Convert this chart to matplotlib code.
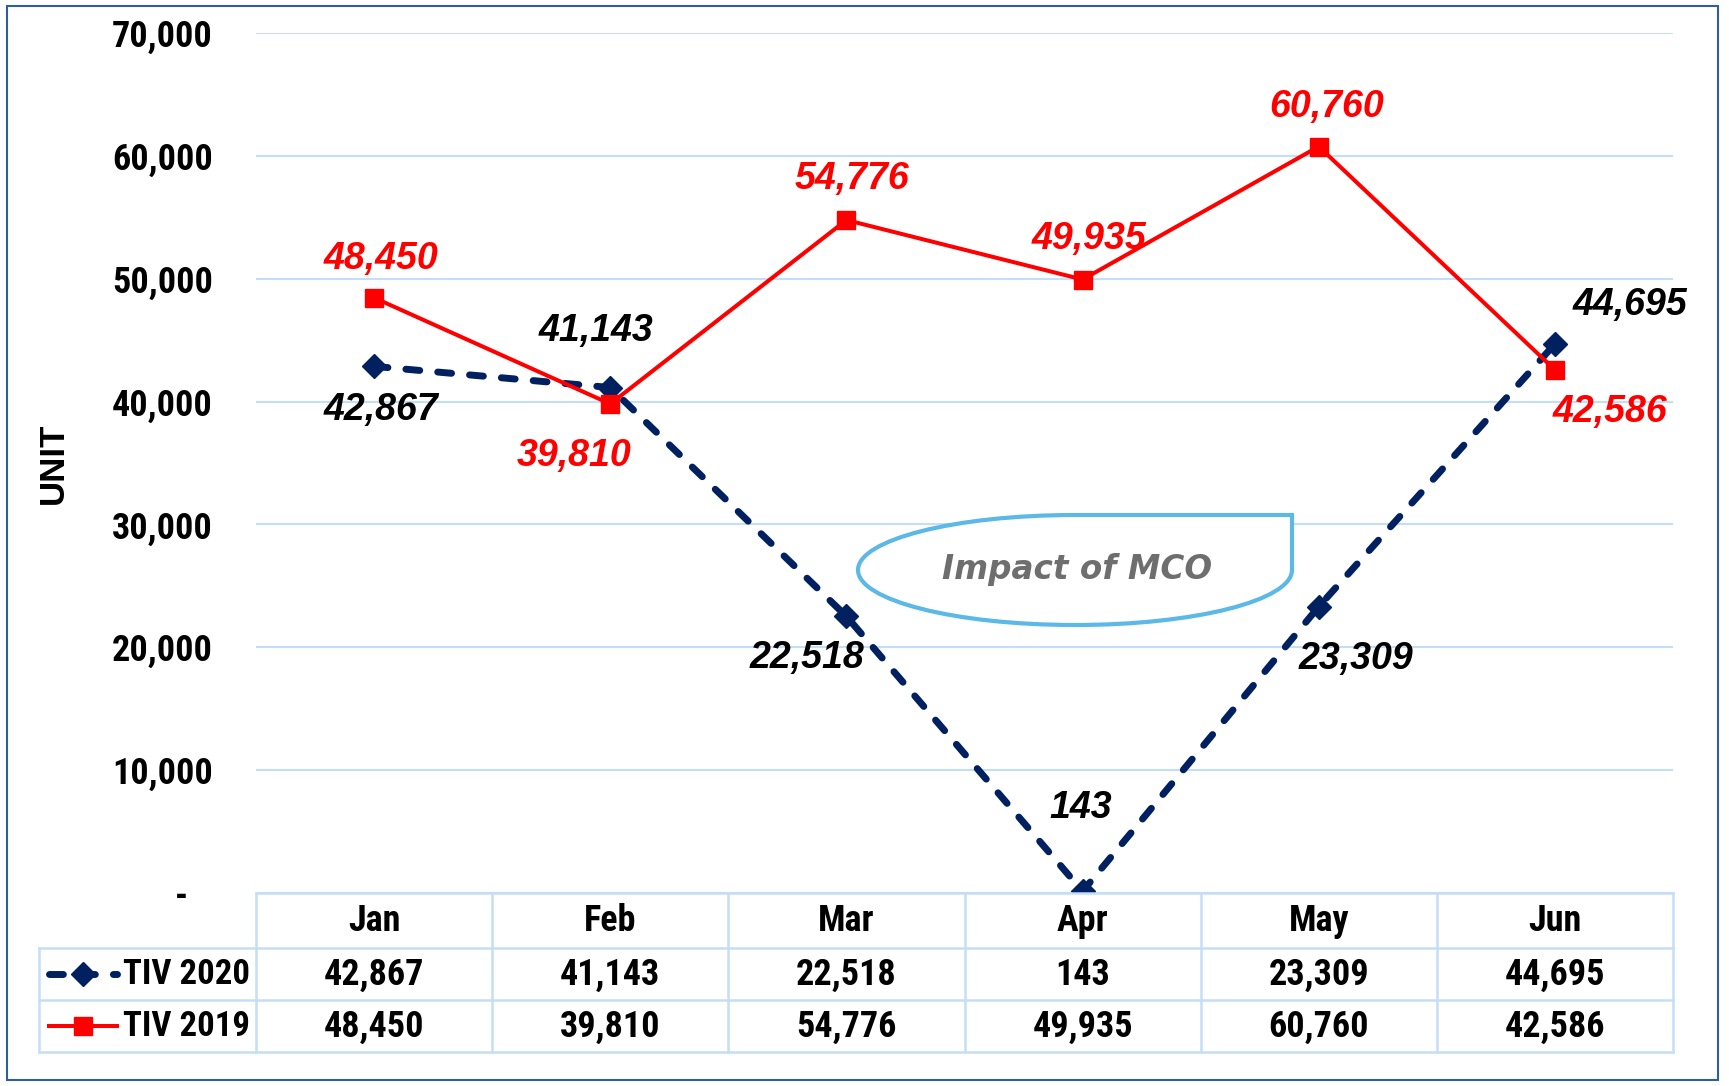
import matplotlib
matplotlib.use("Agg")
import matplotlib.pyplot as plt
import matplotlib.transforms as mtransforms
from matplotlib import font_manager
from matplotlib.path import Path
from matplotlib.patches import PathPatch, Rectangle
from matplotlib.lines import Line2D

# data
months = ['Jan', 'Feb', 'Mar', 'Apr', 'May', 'Jun']
tiv_2020 = [42867, 41143, 22518, 143, 23309, 44695]
tiv_2019 = [48450, 39810, 54776, 49935, 60760, 42586]
y_ticks = [0, 10000, 20000, 30000, 40000, 50000, 60000, 70000]

# label offsets in pixels (dx, dy)
off_2020 = [(7, -44), (-14, 57), (-39, -42), (-2, 83), (37, -52), (75, 39)]
off_2019 = [(7, 39), (-36, -52), (6, 41), (6, 41), (8, 40), (55, -42)]

W, H = 1729, 1086
NAVY = '#002060'
RED = '#ff0000'
GRID = '#c5def7'
ARIAL = ['Liberation Sans', 'DejaVu Sans']

# look for a narrow font, otherwise use plain Arial-like one
narrow = None
for fam, st in [('Liberation Sans Narrow', 'normal'), ('Arial Narrow', 'normal'),
                ('Roboto Condensed', 'normal'), ('DejaVu Sans', 'condensed')]:
    try:
        p = font_manager.findfont(font_manager.FontProperties(family=fam, stretch=st, weight='bold'),
                                  fallback_to_default=False)
        if st == 'normal' or 'ondensed' in p:
            narrow = (fam, st)
            break
    except Exception:
        pass
if narrow:
    NFONT = dict(family=[narrow[0]], fontstretch=narrow[1], fontsize=26, fontweight='bold')
else:
    NFONT = dict(family=ARIAL, fontsize=23, fontweight='bold')
LFONT = dict(NFONT, fontsize=NFONT['fontsize'] - 1)


def fx(x):
    return x / W


def fy(y):
    return 1 - y / H


fig = plt.figure(figsize=(W / 100, H / 100), dpi=100)
ax = fig.add_axes([fx(256), fy(893), (1673 - 256) / W, (893 - 33) / H])

DASH = (0, (2.0, 2.6))
x = list(range(len(months)))
ax.plot(x, tiv_2020, color=NAVY, lw=5, ls=DASH, dash_capstyle='round',
        marker='D', ms=12, zorder=4)
ax.plot(x, tiv_2019, color=RED, lw=2.9, marker='s', ms=13, zorder=5)

for i, v in enumerate(tiv_2020):
    ax.annotate(f'{v:,}', (i, v), xytext=off_2020[i], textcoords='offset pixels',
                ha='center', va='center', fontsize=27, fontweight='bold',
                fontstyle='italic', family=ARIAL, color='black', zorder=6)
for i, v in enumerate(tiv_2019):
    ax.annotate(f'{v:,}', (i, v), xytext=off_2019[i], textcoords='offset pixels',
                ha='center', va='center', fontsize=27, fontweight='bold',
                fontstyle='italic', family=ARIAL, color=RED, zorder=6)

ax.set_xlim(-0.5, 5.5)
ax.set_ylim(0, 70000)
ax.set_xticks([])
ax.set_yticks(y_ticks)
ax.set_yticklabels(['-   '] + [f'{t:,}' for t in y_ticks[1:]], **NFONT)
ax.tick_params(axis='y', length=0, pad=31)
for s in ax.spines.values():
    s.set_visible(False)
ax.grid(axis='y', color=GRID, lw=1.5)
ax.set_axisbelow(True)
ax.patch.set_alpha(0)

fig.text(fx(53), fy(463), 'UNIT', rotation=90, ha='center', va='center',
         fontsize=25, fontweight='bold', family=ARIAL)


# data table under the chart
def col_edge(i):
    return fx(256) + (i / 6) * (1673 - 256) / W


tl = dict(color=GRID, lw=1.8, transform=fig.transFigure)
fig.add_artist(Line2D([col_edge(0), col_edge(6)], [fy(893), fy(893)], **tl))
for yy in [948, 1000, 1052]:
    fig.add_artist(Line2D([fx(39), col_edge(6)], [fy(yy), fy(yy)], **tl))
for i in range(7):
    fig.add_artist(Line2D([col_edge(i), col_edge(i)], [fy(893), fy(1052)], **tl))
fig.add_artist(Line2D([fx(39), fx(39)], [fy(948), fy(1052)], **tl))

bt = mtransforms.blended_transform_factory(ax.transData, fig.transFigure)
for i, m in enumerate(months):
    fig.text(i, fy(921), m, ha='center', va='center', transform=bt, **NFONT)
    fig.text(i, fy(975), f'{tiv_2020[i]:,}', ha='center', va='center', transform=bt, **NFONT)
    fig.text(i, fy(1027), f'{tiv_2019[i]:,}', ha='center', va='center', transform=bt, **NFONT)

fig.text(fx(123), fy(975), 'TIV 2020', ha='left', va='center', **LFONT)
fig.text(fx(123), fy(1027), 'TIV 2019', ha='left', va='center', **LFONT)
fig.add_artist(Line2D([fx(49), fx(117)], [fy(974), fy(974)], color=NAVY, lw=5,
                      ls=DASH, dash_capstyle='round', transform=fig.transFigure))
fig.add_artist(Line2D([fx(83)], [fy(974)], color=NAVY, marker='D', ms=12,
                      transform=fig.transFigure))
fig.add_artist(Line2D([fx(49), fx(117)], [fy(1026), fy(1026)], color=RED, lw=2.9,
                      transform=fig.transFigure))
fig.add_artist(Line2D([fx(83)], [fy(1026)], color=RED, marker='s', ms=13,
                      transform=fig.transFigure))

# "Impact of MCO" teardrop callout
cx, cy, rx, ry = 1075, 570, 217, 55
k = 0.5523
left, right, top, bot = cx - rx, cx + rx, cy - ry, cy + ry
pts = [(cx, top), (right, top), (right, cy),
       (right, cy + k * ry), (cx + k * rx, bot), (cx, bot),
       (cx - k * rx, bot), (left, cy + k * ry), (left, cy),
       (left, cy - k * ry), (cx - k * rx, top), (cx, top), (cx, top)]
codes = [Path.MOVETO, Path.LINETO, Path.LINETO,
         Path.CURVE4, Path.CURVE4, Path.CURVE4,
         Path.CURVE4, Path.CURVE4, Path.CURVE4,
         Path.CURVE4, Path.CURVE4, Path.CURVE4, Path.CLOSEPOLY]
path = Path([(fx(a), fy(b)) for a, b in pts], codes)
fig.add_artist(PathPatch(path, fc='white', ec='#5cb8e6', lw=3,
                         transform=fig.transFigure, zorder=3))
fig.text(fx(1077), fy(570), 'Impact of MCO', ha='center', va='center',
         fontsize=23.5, fontweight='bold', fontstyle='italic', color='#6e6e6e',
         family=['DejaVu Sans'], zorder=4)

# outer frame
fig.add_artist(Rectangle((fx(7), fy(1080)), (1718 - 7) / W, (1080 - 6) / H,
                         fill=False, ec='#2f5f98', lw=1.5, transform=fig.transFigure))

fig.savefig('out.png', dpi=100)
